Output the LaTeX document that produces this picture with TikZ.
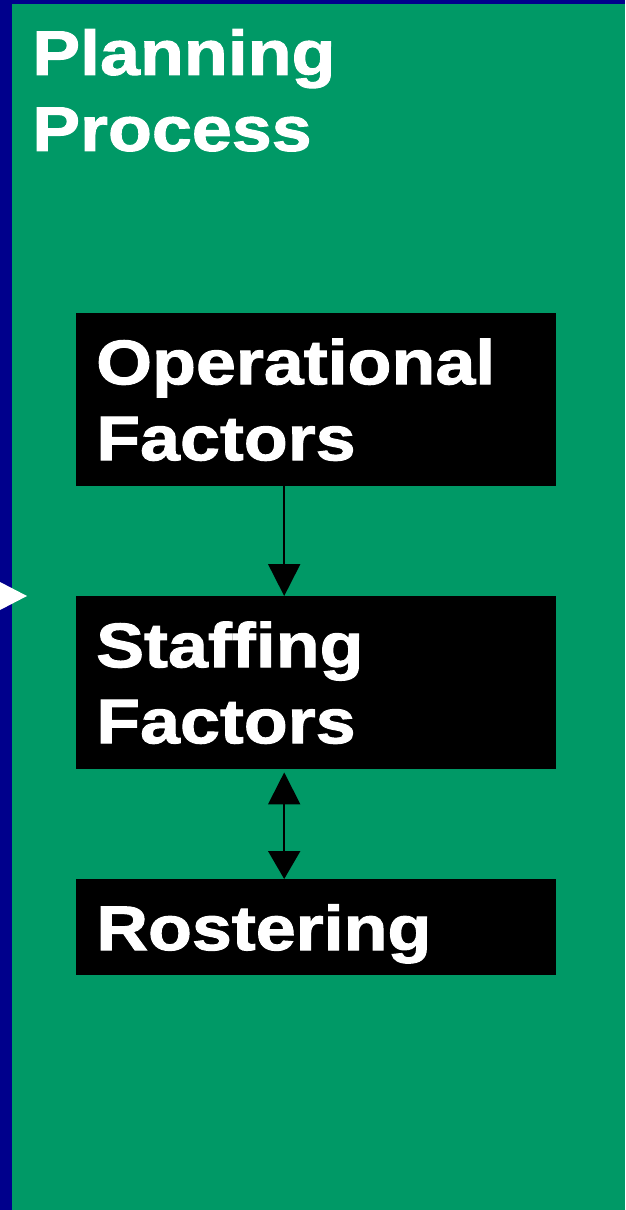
\documentclass[tikz,border=0pt]{standalone}
\usepackage{fontspec}
\setmainfont{Liberation Sans}
\newfontfamily\boldwide{Liberation Sans Bold}[FakeStretch=1.14,FakeBold=1.6]
\usetikzlibrary{arrows.meta}
\definecolor{bgblue}{HTML}{00008C}
\definecolor{bggreen}{HTML}{009966}
\tikzset{
  bigtext/.style={font=\boldwide\fontsize{63}{76}\selectfont},
  factorbox/.style={bigtext, fill=black, text=white,
    minimum width=480pt, text width=440pt, inner xsep=20pt, inner ysep=0pt,
    align=left, anchor=north west},
  link/.style={line width=2pt, draw=black}
}
\begin{document}
\begin{tikzpicture}[x=1pt,y=-1pt]
\useasboundingbox (0,0) rectangle (625,1210);
\fill[bgblue] (0,0) rectangle (625,1210);
\fill[bggreen] (12,4) rectangle (625,1210);
\fill[white] (0,582) -- (27,596) -- (0,610) -- cycle;
\node[bigtext, anchor=north west, inner sep=0pt, text=white, align=left] (title) at (32,29) {Planning\\Process};
\node[factorbox, minimum height=173pt] (ops) at (76,313) {Operational\\Factors};
\node[factorbox, minimum height=173pt] (staff) at (76,596) {Staffing\\Factors};
\node[factorbox, minimum height=96pt, text depth=0pt] (roster) at (76,879) {Rostering};
\draw[link, -{Triangle[width=32pt,length=32pt]}] ([xshift=-32pt]ops.south) -- ([xshift=-32pt]staff.north);
\draw[link, {Triangle[width=32pt,length=32pt]}-{Triangle[width=32pt,length=28pt]}, shorten <=3pt]
  ([xshift=-32pt]staff.south) -- ([xshift=-32pt]roster.north);
\end{tikzpicture}
\end{document}
